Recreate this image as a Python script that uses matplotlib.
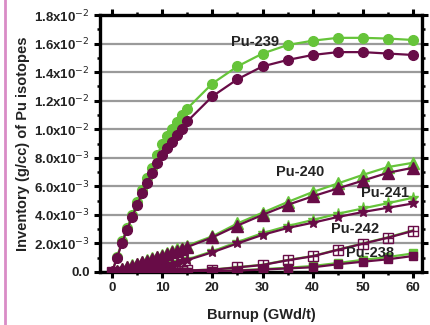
import matplotlib
matplotlib.use("Agg")
import matplotlib.pyplot as plt
from matplotlib.lines import Line2D
from matplotlib.ticker import FixedLocator, MultipleLocator

plt.rcParams['font.family'] = ['Liberation Sans', 'DejaVu Sans']

burnup = [0, 1, 2, 3, 4, 5, 6, 7, 8, 9, 10, 11, 12, 13, 14, 15,
          20, 25, 30, 35, 40, 45, 50, 55, 60]

# values in units of 1e-3 g/cc
pu239_a = [0, 1.05, 2.15, 3.1, 4.0, 4.9, 5.75, 6.55, 7.3, 8.2, 8.95, 9.5, 10.05, 10.5, 11.0, 11.45,
           13.2, 14.4, 15.3, 15.9, 16.2, 16.4, 16.4, 16.35, 16.25]
pu239_b = [0, 1.0, 2.05, 2.95, 3.85, 4.7, 5.5, 6.25, 6.95, 7.6, 8.2, 8.65, 9.1, 9.6, 10.05, 10.55,
           12.3, 13.5, 14.4, 14.85, 15.2, 15.4, 15.4, 15.3, 15.2]
pu240_a = [0, 0.1, 0.22, 0.34, 0.47, 0.59, 0.71, 0.83, 0.96, 1.08, 1.2, 1.32, 1.45, 1.58, 1.71, 1.85,
           2.5, 3.4, 4.15, 4.9, 5.6, 6.2, 6.8, 7.35, 7.65]
pu240_b = [0, 0.09, 0.2, 0.32, 0.44, 0.56, 0.67, 0.79, 0.91, 1.02, 1.14, 1.26, 1.38, 1.5, 1.62, 1.75,
           2.42, 3.25, 4.0, 4.7, 5.3, 5.85, 6.4, 6.95, 7.3]
pu241_a = [0, 0.01, 0.03, 0.06, 0.1, 0.14, 0.19, 0.25, 0.31, 0.38, 0.45, 0.53, 0.61, 0.69, 0.78, 0.88,
           1.45, 2.1, 2.72, 3.22, 3.64, 4.08, 4.45, 4.82, 5.2]
pu241_b = [0, 0.01, 0.03, 0.06, 0.09, 0.13, 0.18, 0.23, 0.29, 0.36, 0.43, 0.5, 0.58, 0.66, 0.74, 0.83,
           1.38, 2.0, 2.6, 3.08, 3.45, 3.85, 4.2, 4.5, 4.8]
pu242_a = [0, 0.002, 0.005, 0.01, 0.015, 0.02, 0.027, 0.035, 0.043, 0.052, 0.06, 0.07, 0.08, 0.09, 0.1, 0.11,
           0.17, 0.34, 0.51, 0.84, 1.12, 1.57, 2.0, 2.43, 2.92]
pu242_b = [0, 0.002, 0.005, 0.01, 0.015, 0.02, 0.026, 0.033, 0.041, 0.05, 0.058, 0.067, 0.077, 0.087, 0.097, 0.107,
           0.16, 0.32, 0.49, 0.82, 1.1, 1.55, 1.98, 2.4, 2.88]
pu238_a = [0, 0.001, 0.002, 0.003, 0.004, 0.005, 0.007, 0.009, 0.011, 0.013, 0.015, 0.018, 0.021, 0.024, 0.027, 0.03,
           0.07, 0.12, 0.2, 0.3, 0.42, 0.63, 0.85, 1.05, 1.3]
pu238_b = [0, 0.001, 0.002, 0.003, 0.004, 0.005, 0.006, 0.008, 0.01, 0.012, 0.014, 0.016, 0.019, 0.022, 0.025, 0.028,
           0.06, 0.1, 0.17, 0.25, 0.33, 0.54, 0.72, 0.89, 1.12]

yticks = [0, 2, 4, 6, 8, 10, 12, 14, 16, 18]
ytick_labels = ['0.0', r'2.0x10$^{-3}$', r'4.0x10$^{-3}$', r'6.0x10$^{-3}$', r'8.0x10$^{-3}$',
                r'1.0x10$^{-2}$', r'1.2x10$^{-2}$', r'1.4x10$^{-2}$', r'1.6x10$^{-2}$', r'1.8x10$^{-2}$']
xticks = [0, 10, 20, 30, 40, 50, 60]

labels = ['Pu-239', 'Pu-240', 'Pu-241', 'Pu-242', 'Pu-238']
label_x = [28.5, 37.5, 54.4, 48.4, 51.4]
label_y = [16.1, 7.0, 5.5, 3.0, 1.35]

green = '#66c43a'
purple = '#680c47'

fig = plt.figure(figsize=(4.30, 3.25), dpi=100)
ax = fig.add_axes([100/430, 1 - 272/325, 322/430, 257/325])

scale = 1e-3
def sc(v):
    return [x * scale for x in v]

ms = 7
lw = 1.6
# Pu-239
ax.plot(burnup, sc(pu239_a), '-o', color=green, ms=ms, lw=lw, zorder=3)
ax.plot(burnup, sc(pu239_b), '-o', color=purple, ms=ms, lw=lw, zorder=4)
# Pu-240
ax.plot(burnup, sc(pu240_a), '-^', color=green, ms=ms + 1, lw=lw, zorder=3)
ax.plot(burnup, sc(pu240_b), '-^', color=purple, ms=ms + 1, lw=lw, zorder=4)
# Pu-241
ax.plot(burnup, sc(pu241_a), '-*', color=green, ms=ms + 1, lw=lw, zorder=3)
ax.plot(burnup, sc(pu241_b), '-*', color=purple, ms=ms + 1, lw=lw, zorder=4)
# Pu-242
ax.plot(burnup, sc(pu242_a), '-', color=green, lw=lw, zorder=3)
ax.plot(burnup, sc(pu242_b), '-', color=purple, lw=lw, zorder=4)
ax.plot(burnup, sc(pu242_b), 's', color=purple, mfc='none', ms=ms - 0.5, mew=1.0, zorder=4)
ax.plot(burnup, sc(pu242_b), '+', color=purple, ms=ms - 0.5, mew=1.0, zorder=4)
# Pu-238
ax.plot(burnup, sc(pu238_a), '-s', color=green, ms=ms - 1, lw=lw, zorder=3)
ax.plot(burnup, sc(pu238_b), '-s', color=purple, ms=ms - 1, lw=lw, zorder=4)

for t, lx, ly in zip(labels, label_x, label_y):
    ax.text(lx, ly * scale, t, fontsize=10.5, fontweight='bold', color='#222222',
            ha='center', va='center', zorder=6)

ax.set_xlim(-2.4, 61.8)
ax.set_ylim(0, 0.018)
ax.yaxis.set_major_locator(FixedLocator(sc(yticks)))
ax.set_yticklabels(ytick_labels)
ax.yaxis.set_minor_locator(MultipleLocator(1e-3))
ax.xaxis.set_major_locator(FixedLocator(xticks))
ax.xaxis.set_minor_locator(MultipleLocator(5))
ax.set_xticklabels([str(x) for x in xticks])

ax.grid(axis='y', which='major', color='#9a9a9a', lw=1.6, zorder=1)
ax.set_axisbelow(True)

for s in ax.spines.values():
    s.set_linewidth(2.4)
    s.set_color('black')
ax.tick_params(which='major', direction='out', length=4, width=2.2,
               top=True, right=True, labelsize=9.5, colors='black', labelcolor='#222222')
ax.tick_params(which='minor', direction='out', length=2.5, width=1.8, top=True, right=True)
for lab in ax.get_xticklabels() + ax.get_yticklabels():
    lab.set_fontweight('bold')

ax.set_xlabel('Burnup (GWd/t)', fontsize=10.5, fontweight='bold', color='#222222', labelpad=10)
ax.set_ylabel('Inventory (g/cc) of Pu isotopes', fontsize=10.5, fontweight='bold', color='#222222', labelpad=3)

fig.add_artist(Line2D([5/430, 5/430], [0, 1], color='#d98cc6', lw=2))

fig.savefig('out.png', dpi=100)
